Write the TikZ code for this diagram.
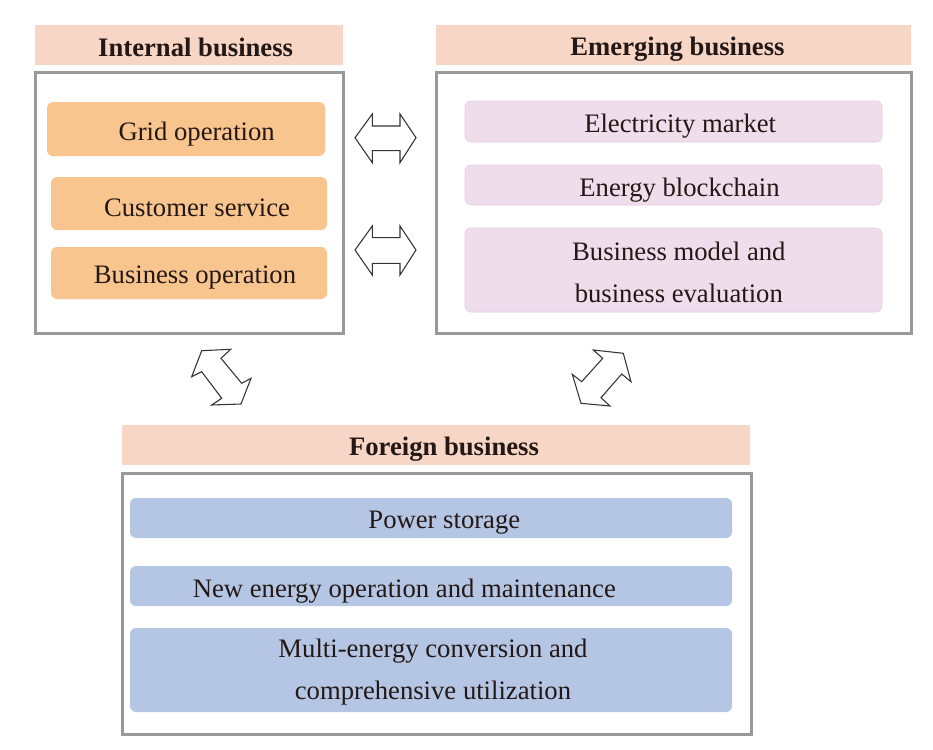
\documentclass[tikz,border=0pt]{standalone}
\usepackage{fontspec}
\setmainfont{Liberation Serif}
\usepackage[]{xcolor}
\usepackage[]{tikz}

\definecolor{headpeach}{HTML}{F7D6C6}
\definecolor{gridorange}{HTML}{F9C58F}
\definecolor{emergpink}{HTML}{F0DDEC}
\definecolor{emergedge}{HTML}{E4CCE2}
\definecolor{foreignblue}{HTML}{B5C6E5}
\definecolor{framegray}{HTML}{999999}
\definecolor{inkdark}{HTML}{231815}

\begin{document}
\begin{tikzpicture}[x=0.75pt, y=-0.75pt,
    header/.style={fill=headpeach, minimum height=30pt, inner sep=0pt},
    frame/.style={draw=framegray, line width=2.25pt, fill=white, inner sep=0pt},
    orangebox/.style={fill=gridorange, rounded corners=4.5pt, minimum width=207pt, inner sep=0pt},
    pinkbox/.style={fill=emergpink, draw=emergedge, line width=0.5pt, rounded corners=4.5pt, minimum width=312.75pt, inner sep=0pt},
    bluebox/.style={fill=foreignblue, rounded corners=4.5pt, minimum width=451.5pt, inner sep=0pt},
    txt/.style={text=inkdark, font=\fontsize{20}{31.5}\selectfont, inner sep=0pt, align=center, yshift=-3.5pt},
    twoline/.style={txt, yshift=2pt},
    bold/.style={txt, font=\fontsize{20}{31.5}\selectfont\bfseries},
    blockarrow/.style={draw=black!80, line width=0.8pt, fill=white, line join=miter}]
        \useasboundingbox (0,0) rectangle (933,750);

        \node[header, minimum width=231pt] (inthead) at (189,45) {};
        \node[bold, yshift=2pt] at ([xshift=5pt]inthead.center) {Internal business};
        \node[frame, minimum width=231pt, minimum height=195.75pt] (intframe) at (189,202.5) {};
        \node[orangebox, minimum width=208.5pt, minimum height=40.5pt] (grid) at (186,129) {};
        \node[txt] at ([xshift=8pt]grid.center) {Grid operation};
        \node[orangebox, minimum height=39.75pt] (customer) at (189,203.5) {};
        \node[txt] at ([xshift=6pt]customer.center) {Customer service};
        \node[orangebox, minimum height=39pt] (busop) at (189,273) {};
        \node[txt] at ([xshift=4.5pt]busop.center) {Business operation};

        \node[header, minimum width=356.25pt] (emhead) at (673.5,45) {};
        \node[bold] at ([xshift=3pt]emhead.center) {Emerging business};
        \node[frame, minimum width=356.25pt, minimum height=195.75pt] (emframe) at (673.5,202.5) {};
        \node[pinkbox, minimum height=30.75pt] (elec) at (673.5,121.5) {};
        \node[txt] at ([xshift=5pt]elec.center) {Electricity market};
        \node[pinkbox, minimum height=30pt] (chain) at (673.5,185) {};
        \node[txt] at ([xshift=4.5pt]chain.center) {Energy blockchain};
        \node[pinkbox, minimum height=63pt] (bizmodel) at (673.5,270) {};
        \node[twoline] at ([xshift=4pt]bizmodel.center) {Business model and\\business evaluation};

        \node[header, minimum width=471pt] (forhead) at (436,445) {};
        \node[bold] at ([xshift=6pt]forhead.center) {Foreign business};
        \node[frame, minimum width=471.75pt, minimum height=195.75pt] (forframe) at (436.5,603.5) {};
        \node[bluebox, minimum height=30pt] (storage) at (431,518) {};
        \node[txt] at ([xshift=10pt]storage.center) {Power storage};
        \node[bluebox, minimum height=30pt] (newenergy) at (431,586) {};
        \node[txt] at ([xshift=-20pt]newenergy.center) {New energy operation and maintenance};
        \node[bluebox, minimum height=63pt] (multi) at (431,670) {};
        \node[twoline] at ([xshift=1.5pt]multi.center) {Multi-energy conversion and\\comprehensive utilization};

        \draw[blockarrow] (355,137.7) -- (372.3,114) -- (372.3,126) -- (400,126) -- (400,114) -- (416,137.7)
            -- (400,162.7) -- (400,150.7) -- (372.3,150.7) -- (372.3,162.7) -- cycle;
        \draw[blockarrow] (355,250) -- (372.3,226) -- (372.3,237.7) -- (400,237.7) -- (400,226) -- (416,250)
            -- (400,275) -- (400,263.3) -- (372.3,263.3) -- (372.3,275) -- cycle;
        \draw[blockarrow] (201.7,350.7) -- (230.7,349.3) -- (221,358.3) -- (241.7,383.3) -- (251,378.3) -- (241,404)
            -- (211.7,405) -- (221.7,398.3) -- (201.7,371.7) -- (191.7,376.7) -- cycle;
        \draw[blockarrow] (593.3,350) -- (623.3,353.3) -- (631,381.7) -- (621.7,374) -- (601,397.7) -- (610,406)
            -- (581,403.3) -- (572.3,374.3) -- (581.7,381.7) -- (602.7,358.3) -- cycle;
      \end{tikzpicture}
\end{document}
